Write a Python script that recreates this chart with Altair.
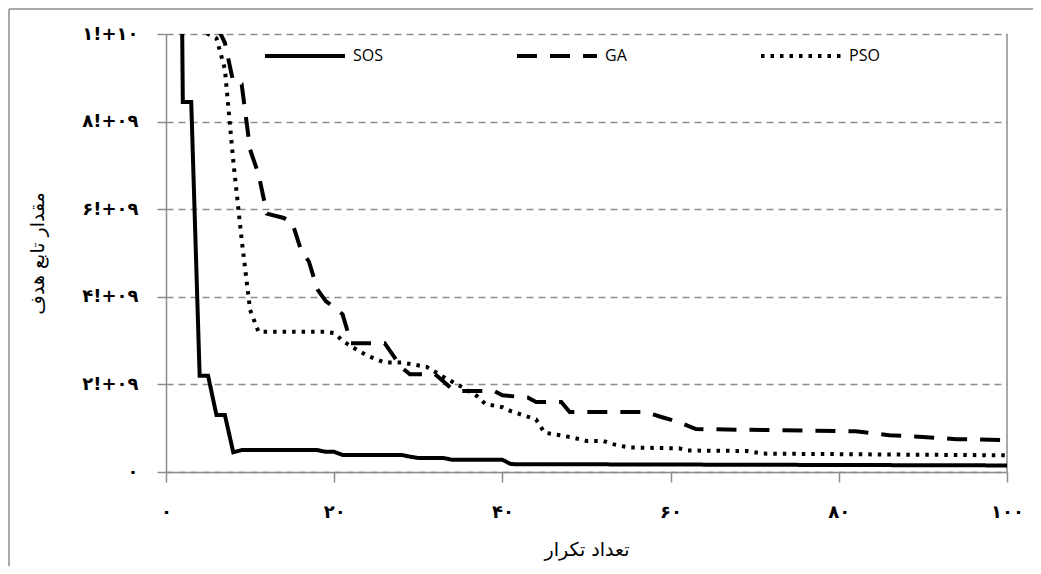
import json
import altair as alt
import pandas as pd

# ---- data (objective value in units of 1e9) ----
series_names = ["SOS", "GA", "PSO"]

sos_iter = [1, 2, 3, 4, 5, 6, 7, 8, 9, 18, 19, 20, 21, 28, 29, 30, 33, 34, 40, 41, 100]
sos_val = [30.0, 8.45, 8.45, 2.2, 2.2, 1.3, 1.3, 0.45, 0.5, 0.5, 0.46, 0.46, 0.39, 0.39,
           0.35, 0.32, 0.32, 0.28, 0.28, 0.18, 0.15]

ga_iter = [1, 6, 7, 8, 9, 10, 11, 12, 14, 15, 16, 17, 18, 19, 20, 21, 22, 26, 28, 29, 32,
           34, 35, 39, 40, 43, 44, 47, 48, 57, 59, 61, 63, 82, 86, 90, 94, 100]
ga_val = [13.0, 10.2, 9.8, 8.9, 8.85, 7.36, 6.8, 5.9, 5.8, 5.7, 5.1, 4.8, 4.17, 3.9, 3.76,
          3.6, 2.94, 2.94, 2.39, 2.23, 2.23, 1.9, 1.85, 1.85, 1.75, 1.7, 1.6, 1.6, 1.37,
          1.37, 1.25, 1.14, 0.98, 0.93, 0.84, 0.8, 0.75, 0.73]

pso_iter = [1, 4, 5, 6, 7, 8, 9, 10, 11, 19, 20, 21, 22, 24, 26, 28, 31, 33, 35, 37, 38,
            40, 41, 44, 45, 48, 50, 52, 53, 55, 61, 62, 69, 71, 100]
pso_val = [12.0, 10.1, 10.0, 9.9, 9.2, 7.1, 5.3, 3.7, 3.2, 3.2, 3.17, 3.0, 2.87, 2.65, 2.5,
           2.5, 2.4, 2.17, 1.96, 1.73, 1.55, 1.48, 1.39, 1.2, 0.9, 0.8, 0.71, 0.71, 0.64,
           0.56, 0.54, 0.49, 0.48, 0.42, 0.38]

y_ticks = [0, 2, 4, 6, 8, 10]
y_tick_labels = ["۰", "۲!+۰۹", "۴!+۰۹", "۶!+۰۹", "۸!+۰۹", "۱!+۱۰"]
x_ticks = [0, 20, 40, 60, 80, 100]
x_tick_labels = ["۰", "۲۰", "۴۰", "۶۰", "۸۰", "۱۰۰"]

x_title = "تعداد تکرار"
y_title = "مقدار تابع هدف"

# ---- table ----
rows = []
for name, its, vals in zip(series_names, [sos_iter, ga_iter, pso_iter], [sos_val, ga_val, pso_val]):
    for i, v in zip(its, vals):
        rows.append({"series": name, "iter": i, "value": v})
df = pd.DataFrame(rows)

ymap = {str(t): l for t, l in zip(y_ticks, y_tick_labels)}
xmap = {str(t): l for t, l in zip(x_ticks, x_tick_labels)}

GRAY = "#8c8c8c"
W, H = 841, 438
PAD = {"left": 158, "top": 26, "right": 26, "bottom": 94}

lines = alt.Chart(df).mark_line(clip=True, color="black", strokeWidth=4, strokeCap="butt").encode(
    x=alt.X("iter:Q",
            scale=alt.Scale(domain=[0, 100], nice=False),
            axis=alt.Axis(values=x_ticks, labelExpr=f"{json.dumps(xmap)}[''+datum.value]",
                          grid=False, domainColor=GRAY, domainWidth=1.5, tickColor=GRAY,
                          tickWidth=1.5, tickSize=10, labelPadding=21, labelFlush=False,
                          labelFont="DejaVu Sans", labelFontWeight="bold", labelFontSize=18,
                          labelColor="black",
                          title=x_title, titleFont="DejaVu Sans", titleFontSize=19,
                          titleFontWeight="normal", titleColor="black",
                          titleX=W / 2, titleY=77, titleAlign="center", titleBaseline="middle")),
    y=alt.Y("value:Q",
            scale=alt.Scale(domain=[0, 10], nice=False),
            axis=alt.Axis(values=y_ticks, labelExpr=f"{json.dumps(ymap)}[''+datum.value]",
                          grid=True, gridColor=GRAY, gridDash=[7, 5], gridWidth=1.3,
                          domainColor=GRAY, domainWidth=1.5, tickColor=GRAY, tickWidth=1.5,
                          tickSize=9, labelPadding=19, labelFlush=False,
                          labelFont="DejaVu Sans", labelFontWeight="bold", labelFontSize=18,
                          labelColor="black",
                          title=y_title, titleFont="DejaVu Sans", titleFontSize=19,
                          titleFontWeight="normal", titleColor="black", titleAngle=270,
                          titleX=-129, titleY=H / 2, titleAlign="center",
                          titleBaseline="middle")),
    strokeDash=alt.StrokeDash("series:N",
                              scale=alt.Scale(domain=series_names,
                                              range=[[1, 0], [20, 13], [3.5, 6]]),
                              legend=alt.Legend(orient="none", legendX=97, legendY=-20,
                                                direction="horizontal", title=None,
                                                symbolType="stroke", symbolSize=6400,
                                                symbolStrokeWidth=4, symbolStrokeColor="black",
                                                labelFont="Open Sans", labelFontSize=16,
                                                labelColor="black", labelOffset=6,
                                                columnPadding=126, padding=0)),
    order=alt.Order("iter:Q"),
)

deco = pd.DataFrame({"k": [0]})
right_border = alt.Chart(deco).mark_rule(color=GRAY, strokeWidth=1.5).encode(
    x=alt.value(W), y=alt.value(0), y2=alt.value(H))
frame_left = alt.Chart(deco).mark_rule(color=GRAY, strokeWidth=1.5, clip=False).encode(
    x=alt.value(-PAD["left"] + 1), y=alt.value(-PAD["top"] + 1), y2=alt.value(H + PAD["bottom"]))
frame_top = alt.Chart(deco).mark_rule(color=GRAY, strokeWidth=1.5, clip=False).encode(
    x=alt.value(-PAD["left"] + 1), x2=alt.value(W + PAD["right"]), y=alt.value(-PAD["top"] + 1))

chart = alt.layer(right_border, lines, frame_left, frame_top).properties(
    width=W, height=H, padding=PAD, autosize=alt.AutoSizeParams(type="none"),
    background="white",
).configure_view(stroke=None)

chart.save("out.html", embed_options={"renderer": "svg", "actions": False})
